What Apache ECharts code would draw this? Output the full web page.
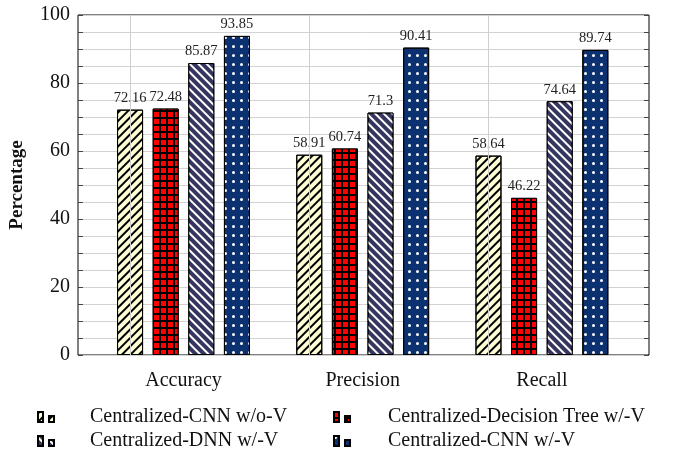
<!DOCTYPE html>
<html>
<head>
<meta charset="utf-8">
<script src="https://cdn.jsdelivr.net/npm/echarts@6/dist/echarts.min.js"></script>
<style>
html,body{margin:0;padding:0;background:#fff;}
#chart{width:686px;height:453px;}
</style>
</head>
<body>
<div id="chart"></div>
<script>
const categories = ['Accuracy', 'Precision', 'Recall'];
const seriesNames = ['Centralized-CNN w/o-V', 'Centralized-Decision Tree w/-V', 'Centralized-DNN w/-V', 'Centralized-CNN w/-V'];
const cnnWoV = [72.16, 58.91, 58.64];
const decisionTreeWV = [72.48, 60.74, 46.22];
const dnnWV = [85.87, 71.3, 74.64];
const cnnWV = [93.85, 90.41, 89.74];
const yTicks = [0, 20, 40, 60, 80, 100];

const FONT = 'Liberation Serif';
const chart = echarts.init(document.getElementById('chart'), null, {renderer: 'canvas'});

const styles = [
  {color: '#FFFFD6', decal: {symbol: 'rect', symbolSize: 1, color: '#000', dashArrayX: [1, 0], dashArrayY: [1.1, 3.3], rotation: -Math.PI / 4}},
  {color: '#000', decal: {symbol: 'rect', symbolSize: 1, color: '#FF0000', dashArrayX: [5, 1.2], dashArrayY: [5, 1.2], rotation: 0}},
  {color: '#35355F', decal: {symbol: 'rect', symbolSize: 1, color: '#fff', dashArrayX: [1, 0], dashArrayY: [1.1, 3.3], rotation: Math.PI / 4}},
  {color: '#0B3170', decal: {symbol: 'circle', symbolSize: 1, color: '#fff', dashArrayX: [2.2, 4.8], dashArrayY: [2.2, 5.2], rotation: 0}}
];
const dataArr = [cnnWoV, decisionTreeWV, dnnWV, cnnWV];

const series = dataArr.map((d, i) => ({
  name: seriesNames[i],
  type: 'bar',
  xAxisIndex: 1,
  yAxisIndex: 2,
  data: d,
  barWidth: 26,
  barGap: '37%',
  itemStyle: {color: styles[i].color, decal: styles[i].decal, borderColor: '#000', borderWidth: 1},
  label: {show: true, position: 'top', distance: 4, fontFamily: FONT, fontSize: 14.5, color: '#222',
          formatter: p => String(p.value)},
  markLine: i === 0 ? {
    silent: true, symbol: 'none', label: {show: false},
    lineStyle: {color: '#cfcfcf', width: 1, type: 'solid'},
    data: categories.map(c => ({xAxis: c}))
  } : undefined,
  z: 3
}));

const icon = 'path://M0,0h5v10h-5z M11,4h5v6h-5z';

const option = {
  animation: false,
  backgroundColor: '#fff',
  grid: [
    {left: 76, right: 37, top: 15, bottom: 98, show: true, borderColor: '#000', borderWidth: 1, backgroundColor: 'transparent'},
    {left: 93.9, right: 54.5, top: 15, bottom: 98}
  ],
  legend: [
    {data: [seriesNames[0], seriesNames[2]], orient: 'vertical', left: 37, top: 407, padding: 0, height: 60, icon: icon,
     itemWidth: 16, itemHeight: 10, itemGap: 4,
     textStyle: {fontFamily: FONT, fontSize: 20, color: '#111', lineHeight: 20, padding: [0, 0, 0, 31]}},
    {data: [seriesNames[1], seriesNames[3]], orient: 'vertical', left: 333, top: 407, padding: 0, height: 60, icon: icon,
     itemWidth: 16, itemHeight: 10, itemGap: 4,
     textStyle: {fontFamily: FONT, fontSize: 20, color: '#111', lineHeight: 20, padding: [0, 0, 0, 33]}}
  ],
  xAxis: [
    {type: 'value', gridIndex: 0, min: 0, max: 1, show: false},
    {type: 'category', gridIndex: 1, data: categories,
     axisLine: {show: false}, axisTick: {show: false}, splitLine: {show: false},
     axisLabel: {fontFamily: FONT, fontSize: 20, color: '#111', margin: 16}}
  ],
  yAxis: [
    {type: 'value', gridIndex: 0, position: 'left', min: 0, max: 100, interval: 5,
     name: 'Percentage', nameLocation: 'middle', nameGap: 51,
     nameTextStyle: {fontFamily: FONT, fontSize: 19, fontWeight: 'bold', color: '#111'},
     axisLine: {show: false},
     axisTick: {show: true, inside: true, length: 5, lineStyle: {color: '#444'}},
     axisLabel: {fontFamily: FONT, fontSize: 20, color: '#111', margin: 8,
                 formatter: v => yTicks.includes(v) ? String(v) : ''},
     splitLine: {show: true, lineStyle: {color: '#d2d2d2', width: 1}}},
    {type: 'value', gridIndex: 0, position: 'right', min: 0, max: 100, interval: 5,
     axisLine: {show: false},
     axisTick: {show: true, inside: true, length: 5, lineStyle: {color: '#444'}},
     axisLabel: {show: false}, splitLine: {show: false}},
    {type: 'value', gridIndex: 1, min: 0, max: 100, show: false, splitLine: {show: false}}
  ],
  series: series
};
chart.setOption(option);
</script>
</body>
</html>
